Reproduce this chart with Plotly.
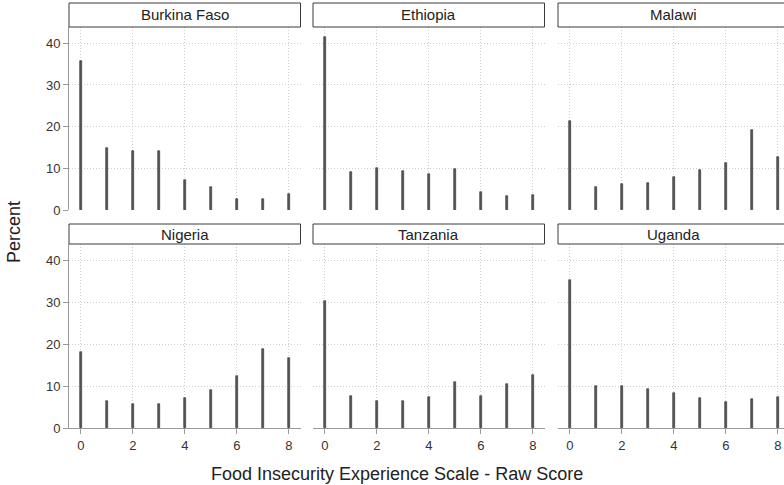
import plotly.graph_objects as go
from plotly.subplots import make_subplots

# FIES raw score categories (0-8) and percent of households per country
scores = [0, 1, 2, 3, 4, 5, 6, 7, 8]
countries = ["Burkina Faso", "Ethiopia", "Malawi", "Nigeria", "Tanzania", "Uganda"]

burkina_faso = [35.8, 14.9, 14.1, 14.1, 7.1, 5.4, 2.7, 2.6, 3.8]
ethiopia = [41.6, 9.2, 10.0, 9.4, 8.6, 9.8, 4.4, 3.4, 3.6]
malawi = [21.3, 5.6, 6.2, 6.4, 7.8, 9.5, 11.3, 19.3, 12.8]
nigeria = [18.3, 6.6, 5.7, 5.9, 7.3, 9.2, 12.5, 19.0, 16.7]
tanzania = [30.5, 7.8, 6.6, 6.6, 7.5, 11.1, 7.6, 10.5, 12.8]
uganda = [35.4, 10.0, 10.2, 9.3, 8.4, 7.2, 6.2, 6.9, 7.5]

series = [burkina_faso, ethiopia, malawi, nigeria, tanzania, uganda]

W, H = 784, 485
H_PX = 477  # vertical pixel span used to convert pixel positions to paper fractions
FONT = "Liberation Sans, Arial, sans-serif"
GRID = "#cfcfcf"
AXIS = "#9a9a9a"
TXT = "#333333"

# panel geometry in pixels
col_left = [69, 313, 558]
col_w = 231.5
px_per_unit = 26.0
x_lo = -0.46
row_top = [27, 244]       # top of plot areas (strip bottoms)
row_zero = [210, 428.3]   # pixel of y = 0
row_strip = [(3, 27), (224, 244)]
y_top = [43.9, 44.0]


def py(p):
    return 1 - p / H_PX


fig = make_subplots(rows=2, cols=3)

for i, (name, vals) in enumerate(zip(countries, series)):
    r, c = divmod(i, 3)
    fig.add_trace(
        go.Bar(
            x=scores, y=vals, width=0.1,
            marker=dict(color="#585858", line=dict(color="#2e2e2e", width=0.6)),
            showlegend=False, name=name,
        ),
        row=r + 1, col=c + 1,
    )

fig.update_layout(
    width=W, height=H, autosize=False, margin=dict(l=0, r=0, t=0, b=0, pad=0),
    paper_bgcolor="white", plot_bgcolor="white",
    font=dict(family=FONT, color=TXT, size=13),
    bargap=0,
)

shapes = []
annotations = []
for i, name in enumerate(countries):
    r, c = divmod(i, 3)
    idx = i + 1
    xa = "xaxis" if idx == 1 else f"xaxis{idx}"
    ya = "yaxis" if idx == 1 else f"yaxis{idx}"
    left = col_left[c]
    right = min(left + col_w, W)
    x_hi = x_lo + (right - left) / px_per_unit
    d_x = [left / W, right / W]
    d_y = [py(row_zero[r]), py(row_top[r])]
    bottom_row = r == 1
    first_col = c == 0
    fig.layout[xa].update(
        domain=d_x, range=[x_lo, x_hi],
        tickmode="linear", tick0=0, dtick=2,
        showgrid=True, gridcolor=GRID, griddash="1px,2px", gridwidth=1,
        zeroline=False,
        showline=bottom_row, linecolor=AXIS, linewidth=1,
        ticks="outside" if bottom_row else "", ticklen=5, tickcolor=AXIS,
        showticklabels=bottom_row, tickfont=dict(size=13, color=TXT),
        fixedrange=True,
    )
    fig.layout[ya].update(
        domain=d_y, range=[0, y_top[r]],
        tickmode="linear", tick0=0, dtick=10,
        showgrid=True, gridcolor=GRID, griddash="1px,2px", gridwidth=1,
        zeroline=False,
        showline=first_col, linecolor=AXIS, linewidth=1,
        ticks="outside" if first_col else "", ticklen=5, tickcolor=AXIS,
        showticklabels=first_col, tickfont=dict(size=13, color=TXT),
        fixedrange=True,
    )
    # strip header box with the country name
    s_top, s_bot = row_strip[r]
    shapes.append(dict(
        type="rect", xref="paper", yref="paper",
        x0=left / W, x1=(left + col_w) / W,
        y0=py(s_bot), y1=py(s_top),
        fillcolor="white", line=dict(color="#3a3a3a", width=1), layer="above",
    ))
    annotations.append(dict(
        text=name, xref="paper", yref="paper",
        x=(left + col_w / 2) / W, y=py((s_top + s_bot) / 2),
        xanchor="center", yanchor="middle", showarrow=False,
        font=dict(size=15, color="#222222", family=FONT),
    ))

annotations.append(dict(
    text="Percent", xref="paper", yref="paper",
    x=14 / W, y=py(232), textangle=-90,
    xanchor="center", yanchor="middle", showarrow=False,
    font=dict(size=18, color="#222222", family=FONT),
))
annotations.append(dict(
    text="Food Insecurity Experience Scale - Raw Score", xref="paper", yref="paper",
    x=397 / W, y=py(474),
    xanchor="center", yanchor="middle", showarrow=False,
    font=dict(size=18, color="#222222", family=FONT),
))

fig.update_layout(shapes=shapes, annotations=annotations)
fig.write_html("out.html", config={"responsive": False, "displayModeBar": False})
